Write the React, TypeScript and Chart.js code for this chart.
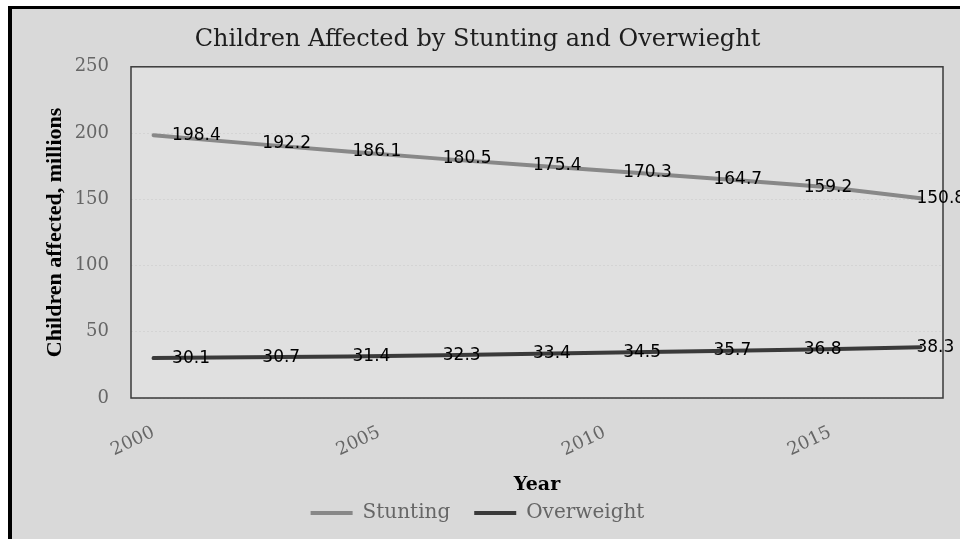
import React, { useEffect, useRef } from 'react';
import { Chart, registerables } from 'chart.js';

Chart.register(...registerables);

const chartTitle = 'Children Affected by Stunting and Overwieght';
const yAxisTitle = 'Children affected, millions';
const xAxisTitle = 'Year';
const seriesNames = ['Stunting', 'Overweight'];
const pointYears = [2000, 2002.1, 2004.3, 2006.4, 2008.5, 2010.6, 2012.8, 2014.9, 2017];
const stunting = [198.4, 192.2, 186.1, 180.5, 175.4, 170.3, 164.7, 159.2, 150.8];
const overweight = [30.1, 30.7, 31.4, 32.3, 33.4, 34.5, 35.7, 36.8, 38.3];
const xTickYears = [2000, 2005, 2010, 2015];
const yTickValues = [0, 50, 100, 150, 200, 250];

const serif = "'DejaVu Serif', serif";

const plotFrame = {
  id: 'plotFrame',
  beforeDraw(chart: any) {
    const { ctx, chartArea: a } = chart;
    ctx.save();
    ctx.fillStyle = '#e0e0e0';
    ctx.fillRect(a.left, a.top, a.right - a.left, a.bottom - a.top);
    ctx.restore();
  },
  beforeDatasetsDraw(chart: any) {
    const { ctx, chartArea: a } = chart;
    ctx.save();
    ctx.strokeStyle = '#3a3a3a';
    ctx.lineWidth = 1.5;
    ctx.strokeRect(a.left, a.top, a.right - a.left, a.bottom - a.top);
    ctx.restore();
  },
};

const valueLabels = {
  id: 'valueLabels',
  afterDatasetsDraw(chart: any) {
    const { ctx } = chart;
    const slot = chart.scales.xSlot;
    const yScale = chart.scales.y;
    ctx.save();
    ctx.font = "17px 'DejaVu Sans', sans-serif";
    ctx.fillStyle = '#000';
    ctx.textAlign = 'left';
    ctx.textBaseline = 'middle';
    chart.data.datasets.forEach((ds: any, di: number) => {
      const meta = chart.getDatasetMeta(di);
      ds.data.forEach((pt: any, i: number) => {
        const last = i === ds.data.length - 1;
        const x = last ? meta.data[i].x - 4 : slot.getPixelForValue(i) - 4;
        const y = yScale.getPixelForValue(pt.y);
        ctx.fillText(pt.y.toFixed(1), x, y);
      });
    });
    ctx.restore();
  },
};

export default function App() {
  const ref = useRef<HTMLCanvasElement>(null);
  useEffect(() => {
    const chart = new Chart(ref.current as HTMLCanvasElement, {
      type: 'line',
      data: {
        datasets: [
          {
            label: seriesNames[0],
            data: pointYears.map((x, i) => ({ x, y: stunting[i] })),
            borderColor: '#888888',
            backgroundColor: '#888888',
            borderWidth: 4,
            borderCapStyle: 'round',
            pointRadius: 0,
            tension: 0,
            xAxisID: 'x',
          },
          {
            label: seriesNames[1],
            data: pointYears.map((x, i) => ({ x, y: overweight[i] })),
            borderColor: '#3a3a3a',
            backgroundColor: '#3a3a3a',
            borderWidth: 4,
            borderCapStyle: 'round',
            pointRadius: 0,
            tension: 0,
            xAxisID: 'x',
          },
        ],
      },
      options: {
        animation: false,
        responsive: true,
        maintainAspectRatio: false,
        layout: { padding: { left: 0, right: 17, top: 0, bottom: 6 } },
        plugins: {
          title: {
            display: true,
            text: chartTitle,
            color: '#1e1e1e',
            font: { family: serif, size: 24, weight: 'normal' },
            padding: { top: 16, bottom: 13 },
          },
          legend: {
            position: 'bottom',
            labels: {
              usePointStyle: true,
              pointStyle: 'line',
              pointStyleWidth: 42,
              color: '#666666',
              padding: 24,
              font: { family: serif, size: 20 },
            },
          },
          tooltip: { enabled: false },
        },
        scales: {
          x: {
            type: 'linear',
            position: 'bottom',
            min: 1999.5,
            max: 2017.5,
            afterBuildTicks(scale: any) {
              scale.ticks = xTickYears.map((v) => ({ value: v }));
            },
            afterFit(scale: any) {
              scale.height = 81;
            },
            grid: { display: false, drawTicks: false },
            border: { display: false },
            ticks: {
              autoSkip: false,
              minRotation: 25,
              maxRotation: 25,
              padding: 24,
              color: '#666666',
              font: { family: serif, size: 18 },
              callback: (v: any) => String(v),
            },
            title: {
              display: true,
              text: xAxisTitle,
              color: '#000',
              font: { family: serif, size: 19, weight: 'bold' },
              padding: { top: 0, bottom: -17 },
            },
          },
          xSlot: {
            type: 'category',
            labels: pointYears.map((v) => String(v)),
            offset: true,
            display: false,
            position: 'bottom',
          },
          y: {
            min: 0,
            max: 250,
            afterBuildTicks(scale: any) {
              scale.ticks = yTickValues.map((v) => ({ value: v }));
            },
            afterFit(scale: any) {
              scale.width = 119;
            },
            grid: { color: 'rgba(0,0,0,0.05)', drawTicks: false },
            border: { display: false, dash: [2, 2] },
            ticks: {
              padding: 22,
              color: '#666666',
              font: { family: serif, size: 18 },
            },
            title: {
              display: true,
              text: yAxisTitle,
              color: '#000',
              font: { family: "'Liberation Serif', serif", size: 22, weight: 'bold' },
              padding: { top: 30, bottom: 0 },
            },
          },
        },
      },
      plugins: [plotFrame, valueLabels],
    } as any);
    return () => chart.destroy();
  }, []);

  return (
    <div
      style={{
        position: 'fixed',
        left: 8,
        top: 6,
        width: 952,
        height: 533,
        boxSizing: 'border-box',
        borderLeft: '4px solid #000',
        borderTop: '3px solid #000',
        background: '#d9d9d9',
        overflow: 'hidden',
      }}
    >
      <div style={{ position: 'relative', width: 948, height: 530 }}>
        <canvas ref={ref} />
      </div>
    </div>
  );
}
